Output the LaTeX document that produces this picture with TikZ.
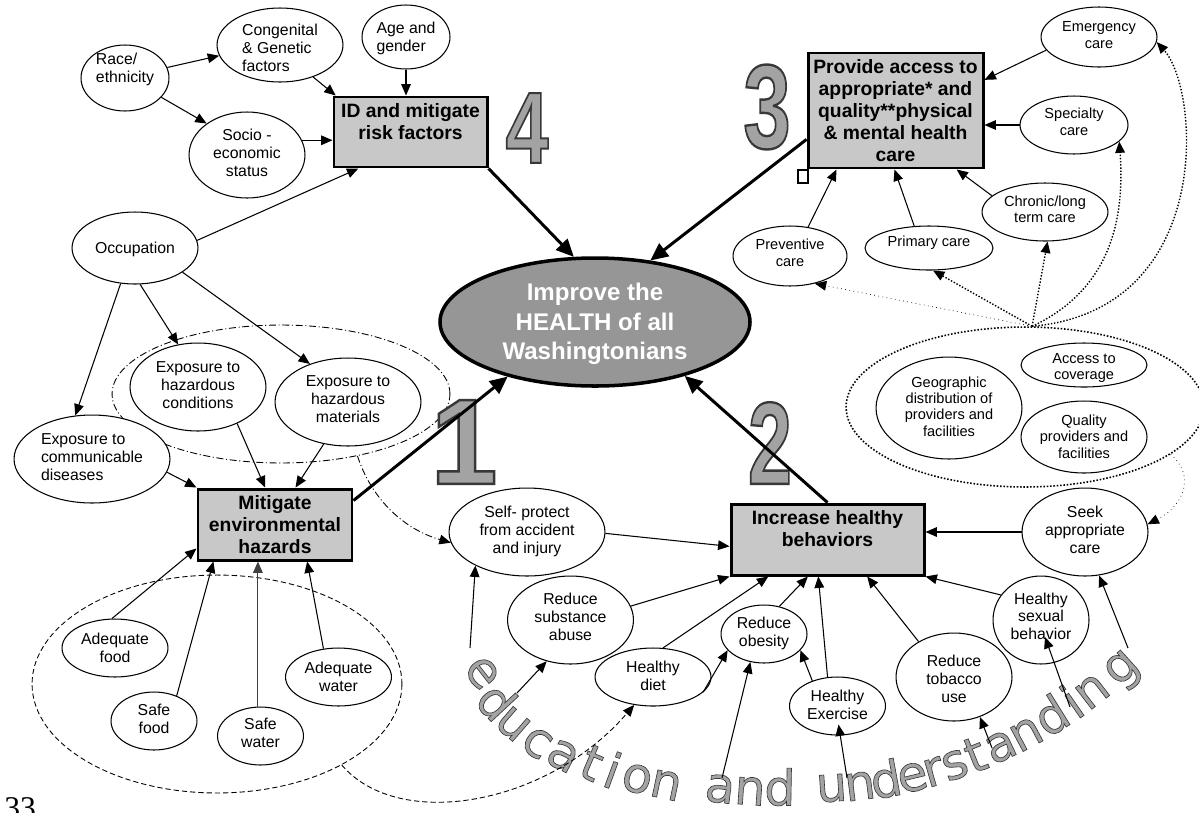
\documentclass[tikz,border=0pt]{standalone}
\usepackage{fontspec}
\setmainfont{Liberation Sans}
\newfontfamily\edufont[FakeBold=1.3]{DejaVu Sans}
\newfontfamily\digfont[FakeBold=2]{Liberation Sans}
\newfontfamily\pgnumfont{Liberation Serif}
\usetikzlibrary{shapes.geometric,arrows.meta,calc}
\definecolor{boxgray}{HTML}{C8C8C8}
\definecolor{midgray}{HTML}{969696}
\def\txk{3pt}
\newcommand\ntx[3][0pt]{\smash{\raisebox{\dimexpr#1-\txk\relax}{\makebox[0pt]{\begin{tabular}{@{}#2@{}}#3\end{tabular}}}}}
% gray fill, dark outline (fill colour first, stroke colour second)
\newcommand\olt[1]{{\special{pdf:bcolor [0.64] [0.22]}#1\special{pdf:ecolor}}}
\tikzset{
 ell/.style={ellipse, draw, line width=0.6pt, inner sep=0pt, fill=white},
 sz/.style 2 args={minimum width={#1*0.04cm}, minimum height={#2*0.04cm}},
 fa/.style={font=\fontsize{9}{10.2}\selectfont\def\txk{3.2pt}},
 fb/.style={font=\fontsize{8.3}{9.3}\selectfont\def\txk{2.9pt}},
 gbox/.style={rectangle, draw, line width=1.7pt, fill=boxgray, inner sep=0pt, font=\bfseries\fontsize{11}{12.6}\selectfont\def\txk{4.2pt}},
 arr/.style={line width=0.6pt, -{Triangle[length=6.5pt,width=5.5pt]}},
 bigarr/.style={line width=1.7pt, -{Triangle[length=10pt,width=9pt]}},
 dotarr/.style={line width=0.8pt, densely dotted, -{Triangle[length=6.5pt,width=5.5pt]}},
 dashdotline/.style={dash pattern=on 4pt off 1.5pt on 0.6pt off 1.5pt},
 ring/.style={ellipse, draw, inner sep=0pt},
 digit/.style={inner sep=0pt, font=\digfont\bfseries},
 edu/.style={inner sep=0pt, font=\edufont\fontsize{28}{32}\selectfont},
}
\begin{document}
\begin{tikzpicture}[x=0.02cm, y=-0.02cm]
\useasboundingbox (0,0) rectangle (1199,812);

% grouping rings
\node[ring, dashdotline, line width=0.5pt, sz={169}{69}] (hazring) at (281,394) {};
\node[ring, densely dotted, line width=0.9pt, sz={179}{80}] (accring) at (1025,407) {};
\node[ring, dash pattern=on 3pt off 1.7pt, line width=0.5pt, sz={185}{109}] (foodring) at (217,684) {};

% big digits
\node[digit] (d4) at (527,128) {\olt{\resizebox{24.4pt}{39.7pt}{4}}};
\node[digit] (d3) at (767,107) {\olt{\resizebox{27pt}{47.6pt}{3}}};
\node[digit] (d1) at (464,442) {\olt{\resizebox{38pt}{47.6pt}{1}}};
\node[digit] (d2) at (770,443) {\olt{\resizebox{25pt}{46.5pt}{2}}};

% education and understanding
\foreach \ch/\lx/\ly/\rr [count=\i] in {
 e/482/673/-52, d/497/701/-47, u/513/724/-41, c/537/743/-34, a/563/756/-28,
 t/592/763/-23, i/613/770/-20, o/637/779/-16, n/666/785/-12,
 a/720/789/-7, n/750/791/-4, d/780/787/-1,
 u/831.7/788/3.8, n/860/786/7.2, d/885.7/778.8/10.4, e/912.6/777.6/13.6,
 r/933.6/772/16.2, s/955.1/765.2/18.9, t/975.2/754.6/21.6, a/1000.9/746.8/24.8,
 n/1026.4/734.1/28.2, d/1050.8/714.9/31.9, i/1071.5/701.3/34.9, n/1092.2/691.5/37.6,
 g/1124.3/671/42.1}
 \node[edu, rotate=\rr] (edu\i) at (\lx,\ly) {\olt{\ch}};

% top-left cluster
\node[ell, fa, sz={44}{33}] (race) at (125,78) {\ntx[5.4pt]{l}{Race/\\ethnicity}};
\node[ell, fa, sz={63}{37}] (cong) at (280,45) {\ntx[-1.9pt]{l}{Congenital\\\& Genetic\\factors}};
\node[ell, fa, sz={44}{32}] (age) at (406,37) {\ntx{l}{Age and\\gender}};
\node[ell, fa, sz={58}{43}] (socio) at (247,155) {\ntx[1.1pt]{c}{Socio -\\economic\\status}};
\node[gbox, minimum width={153*0.02cm}, minimum height={70*0.02cm}] (idb) at (410.5,132) {\ntx[6.2pt]{c}{ID and mitigate\\risk factors}};

% left cluster
\node[ell, fa, sz={63}{36}] (occ) at (135,248) {\ntx{c}{Occupation}};
\node[ell, fa, sz={78}{44}] (comm) at (92,459) {\ntx[1.1pt]{l}{Exposure to\\communicable\\diseases}};
\node[ell, fa, sz={68}{44}] (hcond) at (198,387) {\ntx[1.1pt]{c}{Exposure to\\hazardous\\conditions}};
\node[ell, fa, sz={73}{44}] (hmat) at (348,402) {\ntx[1.7pt]{c}{Exposure to\\hazardous\\materials}};
\node[gbox, minimum width={154*0.02cm}, minimum height={71*0.02cm}] (mit) at (275,524.5) {\ntx{c}{Mitigate\\environmental\\hazards}};

% food and water
\node[ell, fa, sz={53}{29}] (afood) at (115,648) {\ntx{c}{Adequate\\food}};
\node[ell, fa, sz={43}{29}] (sfood) at (154,721) {\ntx[1.1pt]{c}{Safe\\food}};
\node[ell, fa, sz={43}{29}] (swater) at (260.5,736) {\ntx[1.7pt]{c}{Safe\\water}};
\node[ell, fa, sz={53}{29}] (awater) at (338.5,677) {\ntx{c}{Adequate\\water}};

% centre
\node[ellipse, draw, line width=2pt, fill=midgray, text=white, inner sep=0pt,
      minimum width={310*0.02cm}, minimum height={128*0.02cm},
      font=\bfseries\fontsize{13.7}{16.8}\selectfont\def\txk{4.9pt}] (health) at (595,322)
      {\ntx{c}{Improve the\\HEALTH of all\\Washingtonians}};

% top-right cluster
\node[gbox, minimum width={175*0.02cm}, minimum height={115*0.02cm}] (prov) at (895.5,110.5) {\ntx{c}{Provide access to\\appropriate* and\\quality**physical\\\& mental health\\care}};
\node[draw, line width=0.6pt, fill=white, inner sep=0pt, minimum width={10*0.02cm}, minimum height={13*0.02cm}] (sq) at (803,176.5) {};
\node[ell, fb, sz={58}{30}] (emer) at (1099,37) {\ntx[1.1pt]{c}{Emergency\\care}};
\node[ell, fb, sz={54}{29}] (spec) at (1074,125) {\ntx[1.7pt]{c}{Specialty\\care}};
\node[ell, fb, sz={63}{29}] (chron) at (1045,212) {\ntx[1.4pt]{c}{Chronic/long\\term care}};
\node[ell, fb, sz={64}{22}] (prim) at (929,248) {\ntx[3.4pt]{c}{Primary care}};
\node[ell, fb, sz={57}{30}] (prev) at (790,256) {\ntx[1.7pt]{c}{Preventive\\care}};
\node[ell, fb, sz={73}{51}] (geo) at (949,408) {\ntx[0.7pt]{c}{Geographic\\distribution of\\providers and\\facilities}};
\node[ell, fb, sz={63}{22}] (acc) at (1084,365) {\ntx[-1.1pt]{c}{Access to\\coverage}};
\node[ell, fb, sz={63}{36}] (qual) at (1084,437) {\ntx{c}{Quality\\providers and\\facilities}};

% behaviours
\node[gbox, minimum width={193*0.02cm}, minimum height={71*0.02cm}] (inc) at (827.5,539.5) {\ntx[6.5pt]{c}{Increase healthy\\behaviors}};
\node[ell, fa, sz={63}{44}] (seek) at (1085,532) {\ntx[1.1pt]{c}{Seek\\appropriate\\care}};
\node[ell, fa, sz={78}{44}] (self) at (527,532) {\ntx[1.1pt]{c}{Self- protect\\from accident\\and injury}};
\node[ell, fa, sz={63}{44}] (subst) at (570.5,620) {\ntx[1.7pt]{c}{Reduce\\substance\\abuse}};
\node[ell, fa, sz={58}{29}] (diet) at (653,677) {\ntx[0.5pt]{c}{Healthy\\diet}};
\node[ell, fa, sz={43}{29}] (obes) at (764,634) {\ntx[0.8pt]{c}{Reduce\\obesity}};
\node[ell, fa, sz={48}{29}] (exer) at (837.5,706) {\ntx[0.5pt]{c}{Healthy\\Exercise}};
\node[ell, fa, sz={58}{44}] (tob) at (954,677) {\ntx[-1.1pt]{c}{Reduce\\tobacco\\use}};
\node[ell, fa, sz={48}{44}] (sex) at (1041,620) {\ntx[1.9pt]{c}{Healthy\\sexual\\behavior}};

% free ends of the education arrows
\coordinate (e1) at (470,648);
\coordinate (e2) at (517,693);
\coordinate (e3) at (722,778);
\coordinate (e4) at (847,778);
\coordinate (e5) at (992,748);
\coordinate (e6) at (1070,707);
\coordinate (e7) at (1128,648);

% connectors: risk factors
\draw[arr] (race.14) -- (cong.190);
\draw[arr] (race.-28) -- (socio.142);
\draw[arr] (cong.-44) -- (idb.154);
\draw[arr] (age.south) -- (age.south |- idb.north);
\draw[arr] (socio.15) -- (socio.15 -| idb.west);
\draw[arr] (occ.7) -- (idb.215);
% environment
\draw[arr] (occ.248) -- (comm.111);
\draw[arr] (occ.-82) -- (hcond.115);
\draw[arr] (occ.-27) -- (hmat.135);
\draw[arr] (comm.-10) -- (mit.north west);
\draw[arr] (hcond.-43) -- (mit.105);
\draw[arr] (hmat.-120) -- (mit.61);
\draw[arr] (afood.96) -- (mit.-163);
\draw[arr] (sfood.48) -- (mit.-149);
\draw[arr, black!75] (swater.95) -- (swater.95 |- mit.south);
\draw[arr] (awater.118) -- (mit.-49);
% main arrows
\draw[bigarr] (mit.17) -- (health.212);
\draw[bigarr] (idb.south east) -- (health.108);
\draw[bigarr] (prov.198) -- (health.48);
\draw[bigarr] (inc.north) -- (health.-31);
% access
\draw[arr] (emer.194) -- (prov.19);
\draw[arr] (spec.west) -- (spec.west -| prov.east);
\draw[arr] (chron.163) -- (prov.-44);
\draw[arr] (prim.124) -- (prov.-91);
\draw[arr] (prev.58) -- (prov.225);
\draw[dotarr, line width=0.4pt, dotted] (accring.85) -- (prev.-48);
\draw[dotarr] (accring.85) -- (prim.-80);
\draw[dotarr] (accring.85) -- (chron.-85);
\draw[dotarr] (accring.85) .. controls (1110,290) and (1125,220) .. (spec.-20);
\draw[dotarr] (accring.85) .. controls (1215,310) and (1200,90) .. (emer.-5);
\draw[dotarr, line width=0.4pt, dotted] (accring.-18) .. controls (1195,475) and (1185,505) .. (seek.7);
% behaviours
\draw[arr] (self.-1) -- (inc.-176);
\draw[arr] (subst.13) -- (inc.south west);
\draw[arr] (diet.71) -- (inc.-148);
\draw[arr] (diet.-17) -- (obes.-156);
\draw[arr] (obes.61) -- (inc.-118);
\draw[arr] (exer.135) -- (obes.-24);
\draw[arr] (exer.109) -- (inc.-104);
\draw[arr] (tob.135) -- (inc.-43);
\draw[arr] (sex.148) -- (inc.south east);
\draw[arr] (seek.west) -- (seek.west -| inc.east);
% education arrows
\draw[arr] (e1) -- (self.-147);
\draw[arr] (e2) -- (subst.-120);
\draw[arr] (e3) -- (obes.-116);
\draw[arr] (e4) -- ($(exer.south)+(1,-11)$);
\draw[arr] (e5) -- (tob.-57);
\draw[arr] (e6) -- ($(sex.center)+(4,17)$);
\draw[arr] (e7) -- (seek.-72);
% dashed links
\draw[arr, line width=0.5pt, dashdotline] (hazring.-39) .. controls (370,495) and (400,528) .. (self.188);
\draw[arr, line width=0.5pt, dash pattern=on 3pt off 1.7pt] (foodring.-33) .. controls (399,832) and (548,805) .. (diet.-124);

% page number
\node[anchor=base west, inner sep=0pt, font=\pgnumfont\fontsize{18}{20}\selectfont] (pgnum) at (4,818) {33};
\end{tikzpicture}
\end{document}
